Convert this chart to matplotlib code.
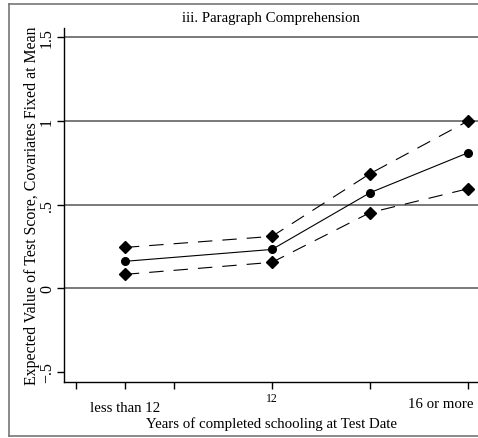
import matplotlib
matplotlib.use("Agg")
import matplotlib.pyplot as plt
from matplotlib.lines import Line2D
import matplotlib.transforms as mtransforms

# schooling categories (x position in years) and estimates
years = [9, 12, 14, 16]
estimate = [0.161, 0.232, 0.571, 0.810]
upper_ci = [0.244, 0.310, 0.685, 1.000]
lower_ci = [0.083, 0.155, 0.452, 0.595]

label_ticks = [9, 12, 16]
label_text = ["less than 12", "12", "16 or more"]
minor_ticks = [8, 10, 14]
y_ticks = [-0.5, 0, 0.5, 1, 1.5]
y_text = ["\u2212.5", "0", ".5", "1", "1.5"]

plt.rcParams["font.family"] = ["Liberation Serif", "DejaVu Serif"]

fig = plt.figure(figsize=(4.78, 4.39), dpi=100)
ax = fig.add_axes([64 / 478, 56 / 439, 1 - 64 / 478, (383 - 29) / 439])

# horizontal grid lines
for g in [0, 0.5, 1, 1.5]:
    ax.axhline(g, color="#555555", lw=1.1, zorder=1)

ax.plot(years, upper_ci, color="black", lw=0.8, dashes=(13, 9),
        marker="D", ms=6, zorder=3)
ax.plot(years, estimate, color="black", lw=0.8, marker="o", ms=5.5, zorder=3)
ax.plot(years, lower_ci, color="black", lw=0.8, dashes=(13, 9),
        marker="D", ms=6, zorder=3)

ax.set_xlim(7.76, 16.2)
ax.set_ylim(-0.56, 1.555)

ax.spines["top"].set_visible(False)
ax.spines["right"].set_visible(False)
ax.spines["left"].set_linewidth(1.0)
ax.spines["bottom"].set_linewidth(1.0)

ax.set_xticks(label_ticks)
ax.set_xticklabels(label_text, fontsize=10.7)
ax.set_xticks(minor_ticks, minor=True)
ax.tick_params(axis="x", which="both", direction="out", length=5, width=1)
ax.set_yticks(y_ticks)
ax.set_yticklabels(y_text, rotation=90, va="center", fontsize=11.5)
ax.tick_params(axis="y", direction="out", length=5, width=1, pad=1.5)

# per-label adjustments to match the original placement
xt = ax.xaxis.get_major_ticks()
xt[0].set_pad(9)
xt[1].label1.set_fontsize(8.5)
xt[1].set_pad(2)
xt[2].set_pad(6)
lab = xt[2].label1
lab.set_horizontalalignment("right")
lab.set_transform(lab.get_transform() + mtransforms.ScaledTranslation(5 / 100, 0, fig.dpi_scale_trans))

ax.set_title("iii. Paragraph Comprehension", fontsize=10.7, pad=5)
ax.set_xlabel("Years of completed schooling at Test Date", fontsize=10.7, labelpad=1.5)
ax.set_ylabel("Expected Value of Test Score, Covariates Fixed at Mean", fontsize=11.4, labelpad=-1)

# outer frame (top, left, bottom visible)
frame_c = "#777777"
fig.add_artist(Line2D([9 / 478, 1], [1 - 5 / 439, 1 - 5 / 439], color=frame_c, lw=1.2, transform=fig.transFigure))
fig.add_artist(Line2D([9 / 478, 9 / 478], [2 / 439, 1 - 5 / 439], color=frame_c, lw=1.2, transform=fig.transFigure))
fig.add_artist(Line2D([9 / 478, 1], [2 / 439, 2 / 439], color=frame_c, lw=1.2, transform=fig.transFigure))

fig.savefig("out.png", dpi=100)
